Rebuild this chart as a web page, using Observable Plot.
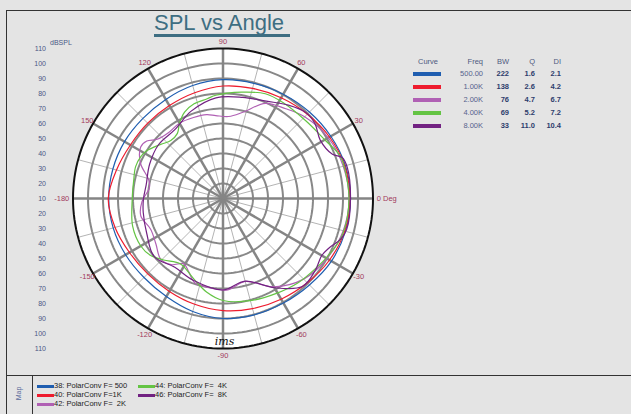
<!DOCTYPE html>
<html>
<head>
<meta charset="utf-8">
<script src="https://cdn.jsdelivr.net/npm/d3@7"></script>
<script src="https://cdn.jsdelivr.net/npm/@observablehq/plot@0.6"></script>
<style>
  html, body { margin: 0; padding: 0; background: #e4e4e4; }
  body { font-family: "Liberation Sans", Arial, sans-serif; }
  #wrap { position: relative; width: 631px; height: 414px; overflow: hidden; background: #e4e4e4; }
  .abs { position: absolute; }
  #chart { position: absolute; left: 0; top: 0; }
  #title { left: 154px; top: 11px; font-size: 22px; color: #3e6e82; border-bottom: 3px solid #3e6e82; line-height: 23px; white-space: pre; }
  .hdr { font-size: 7.5px; color: #4f5a80; }
  .th, .td { position: absolute; font-size: 7.5px; white-space: pre; line-height: 9px; }
  .td.freq { color: #56638c; }
  .td.b { color: #2d3d6c; font-weight: bold; }
  .sw { position: absolute; height: 3px; }
  .leg { position: absolute; font-size: 7.5px; color: #222; white-space: pre; line-height: 9px; }
</style>
</head>
<body>
<div id="wrap">
  <div class="abs" style="left:6px;top:10px;width:625px;height:404px;border-left:1.5px solid #333;border-top:1.5px solid #333;"></div>
  <div class="abs" style="left:6px;top:375px;width:625px;height:0;border-top:1.5px solid #333;"></div>
  <div class="abs" style="left:32px;top:375px;width:0;height:39px;border-left:1.5px solid #333;"></div>
  <div id="chart"></div>
  <div id="title" class="abs">SPL vs Angle </div>
  <div id="table"></div>
  <div id="legend"></div>
  <div class="abs" style="left:6px;top:390px;width:24px;text-align:center;transform:rotate(-90deg);font-size:7px;color:#5a6a9a;">Map</div>
</div>
<script>
// ---- data ----
const ringDb = [20, 30, 40, 50, 60, 70, 80, 90, 100];
const spokeAngles = d3.range(-180, 180, 15);
const angleLabels = [0, 30, 60, 90, 120, 150, 180, -30, -60, -90, -120, -150];
const angleLabelText = ["0 Deg", "30", "60", "90", "120", "150", "-180", "-30", "-60", "-90", "-120", "-150"];
const dbTicks = [110, 100, 90, 80, 70, 60, 50, 40, 30, 20, 10, 20, 30, 40, 50, 60, 70, 80, 90, 100, 110];

const curveNames = ["500.00", "1.00K", "2.00K", "4.00K", "8.00K"];
const curveColors = ["#1f5eb0", "#ee1c2e", "#b060b4", "#64c444", "#722282"];
const curveBW = ["222", "138", "76", "69", "33"];
const curveQ = ["1.6", "2.6", "4.7", "5.2", "11.0"];
const curveDI = ["2.1", "4.2", "6.7", "7.2", "10.4"];
const mapLabels = ["38: PolarConv F= 500", "40: PolarConv F=1K", "42: PolarConv F=  2K", "44: PolarConv F=  4K", "46: PolarConv F=  8K"];

const ang500 = [-180,-165,-150,-135,-120,-105,-90,-75,-60,-45,-30,-15,0,15,30,45,60,75,90,105,120,135,150,165];
const db500  = [86.2,85.8,85,84.5,85.5,88,90,90.3,90.5,91.5,93.5,94.5,95,94.5,93,91.5,90.3,89.5,89.2,88,86.3,85.5,85.8,86];

const ang1k = [-180,-165,-150,-135,-120,-105,-90,-75,-60,-45,-30,-15,0,15,30,45,60,75,90,105,120,135,150,165];
const db1k  = [86.5,84.5,82,81,81.5,83,84.7,86,87.5,89.5,92,94,94.5,94,92,89.5,87.5,86,85,83,81.5,81,81.3,83.5];

const ang2k = [-178,-168,-157,-146,-136,-128,-121,-115,-109,-100,-87,-75,-60,-45,-30,-15,0,15,30,45,55,66,77,86,95,101,110,120,130,138,143,148,157,166,172];
const db2k  = [64,66,62.4,64,67.9,66,60.7,64,69,70,71,67.3,78,86,90,93,94,93,91,87,83,79.4,69,64.8,65.5,67,67.5,68,67,69,73.6,74.7,69.7,61,59.6];

const ang4k = [-163,-150,-142,-134,-123,-110,-100,-90,-75,-61,-48,-37,-28,-17,0,17,21,29.5,43,58,68,80,94,99,107,114,120,125,132,139,148,153,160,169,180];
const db4k  = [73,73.3,71.5,67,62,67,73.3,78,80.5,82.5,85.3,87.4,90,93.2,94,93.5,92.7,88.5,85.7,85.4,85.3,82,79,77.3,76,73,68,63,62,65,70,71.5,72,70.7,70.5];

const ang8k = [-170,-155,-140,-125,-110,-90,-75,-60,-48,-38,-30,-25,-19,-14,0,14,19,22,31,39,46,55,66,79,94,110,125,140,155,170,180];
const db8k  = [64,66,70,66,68,71,67,78.7,89,88,86,88,93,95,95,95.4,94,88.7,85.6,89,89.6,86,81,78.7,77.3,72,66,66,64,62,63];

// ---- build ----
const rad = d => d * Math.PI / 180;
const px = (a, db) => (db - 10) * Math.cos(rad(a));
const py = (a, db) => (db - 10) * Math.sin(rad(a));

const series = [
  {name: curveNames[0], a: ang500, d: db500},
  {name: curveNames[1], a: ang1k, d: db1k},
  {name: curveNames[2], a: ang2k, d: db2k},
  {name: curveNames[3], a: ang4k, d: db4k},
  {name: curveNames[4], a: ang8k, d: db8k}
];
const curvePts = series.flatMap(s => s.a.map((a, i) => ({name: s.name, x: px(a, s.d[i]), y: py(a, s.d[i])})));

const fullCircle = d3.range(0, 361, 2);
const disk = fullCircle.map(a => ({x: px(a, 110), y: py(a, 110)}));
const rings = ringDb.flatMap(db => fullCircle.map(a => ({ring: db, x: px(a, db), y: py(a, db)})));
const spokes = spokeAngles.map(a => ({a, x2: px(a, 110), y2: py(a, 110), heavy: a % 30 === 0}));
const labels = angleLabels.map((a, i) => {
  const r = (a === 0 || a === 180) ? 112.5 : 114.5;
  return {a, t: angleLabelText[i], x: px(a, r), y: py(a, r)};
});

const plot = Plot.plot({
  width: 631,
  height: 375,
  marginLeft: 72.5,
  marginRight: 258.5,
  marginTop: 48,
  marginBottom: 27,
  x: {domain: [-100, 100], axis: null},
  y: {domain: [-100, 100], axis: null},
  style: {background: "transparent", fontFamily: "Liberation Sans, Arial, sans-serif"},
  marks: [
    Plot.line(disk, {x: "x", y: "y", fill: "white", stroke: "none"}),
    Plot.link(spokes.filter(d => !d.heavy), {x1: 0, y1: 0, x2: "x2", y2: "y2", stroke: "#b4b4b4", strokeWidth: 1}),
    Plot.line(rings, {x: "x", y: "y", z: "ring", stroke: "#888", strokeWidth: 2}),
    Plot.link(spokes.filter(d => d.heavy), {x1: 0, y1: 0, x2: "x2", y2: "y2", stroke: "#858585", strokeWidth: 2.5}),
    Plot.line(disk, {x: "x", y: "y", stroke: "#111", strokeWidth: 2}),
    Plot.line(curvePts, {x: "x", y: "y", z: "name", stroke: "name", curve: "catmull-rom-closed", strokeWidth: 1.2}),
    Plot.axisY(d3.range(-100, 101, 10), {anchor: "left", tickSize: 0, tickPadding: 27, fontSize: 7, fill: "#4a5885", tickFormat: d => String(dbTicks[(100 - d) / 10])}),
    Plot.text(["dBSPL"], {frameAnchor: "top-left", dx: -23, dy: -8.5, fontSize: 7, fill: "#4a5885", textAnchor: "start"}),
    Plot.text(labels.filter(d => d.a !== 0 && d.a !== 180), {x: "x", y: "y", text: "t", fontSize: 7.5, fill: "#a23a5c", textAnchor: "middle"}),
    Plot.text(labels.filter(d => d.a === 0), {x: "x", y: "y", text: "t", fontSize: 7.5, fill: "#a23a5c", textAnchor: "start"}),
    Plot.text(labels.filter(d => d.a === 180), {x: "x", y: "y", text: "t", fontSize: 7.5, fill: "#a23a5c", textAnchor: "end"}),
    Plot.text(["ims"], {x: 1, y: -95, fontSize: 11, fontStyle: "italic", fontFamily: "DejaVu Serif", fill: "#111"})
  ],
  color: {domain: curveNames, range: curveColors}
});
document.getElementById("chart").appendChild(plot);

// table legend
const tbl = document.getElementById("table");
const cols = [{t: "Freq", r: 483}, {t: "BW", r: 509}, {t: "Q", r: 535}, {t: "DI", r: 561}];
function addText(parent, cls, text, x, y, align, color) {
  const el = document.createElement("div");
  el.className = cls;
  el.textContent = text;
  if (align === "right") { el.style.right = (631 - x) + "px"; el.style.textAlign = "right"; }
  else if (align === "center") { el.style.left = (x - 30) + "px"; el.style.width = "60px"; el.style.textAlign = "center"; }
  else el.style.left = x + "px";
  el.style.top = (y - 5) + "px";
  if (color) el.style.color = color;
  parent.appendChild(el);
}
addText(tbl, "th hdr", "Curve", 428, 62, "center");
cols.forEach(c => addText(tbl, "th hdr", c.t, c.r, 62, "right"));
curveNames.forEach((n, i) => {
  const y = 74 + i * 13;
  const sw = document.createElement("div");
  sw.className = "sw";
  sw.style.left = "413px"; sw.style.width = "28px"; sw.style.top = (y - 2) + "px"; sw.style.height = "4px";
  sw.style.background = curveColors[i];
  tbl.appendChild(sw);
  addText(tbl, "td freq", n, 483, y, "right");
  addText(tbl, "td b", curveBW[i], 509, y, "right");
  addText(tbl, "td b", curveQ[i], 535, y, "right");
  addText(tbl, "td b", curveDI[i], 561, y, "right");
});

// bottom map legend
const leg = document.getElementById("legend");
const mapPos = [[37, 386], [37, 395], [37, 404], [138, 386], [138, 395]];
mapLabels.forEach((t, i) => {
  const [x, y] = mapPos[i];
  const sw = document.createElement("div");
  sw.className = "sw";
  sw.style.left = x + "px"; sw.style.width = "17px"; sw.style.top = (y - 1.5) + "px";
  sw.style.background = curveColors[i];
  leg.appendChild(sw);
  const el = document.createElement("div");
  el.className = "leg";
  el.textContent = t;
  el.style.left = (x + 17) + "px";
  el.style.top = (y - 5) + "px";
  leg.appendChild(el);
});
</script>
</body>
</html>
